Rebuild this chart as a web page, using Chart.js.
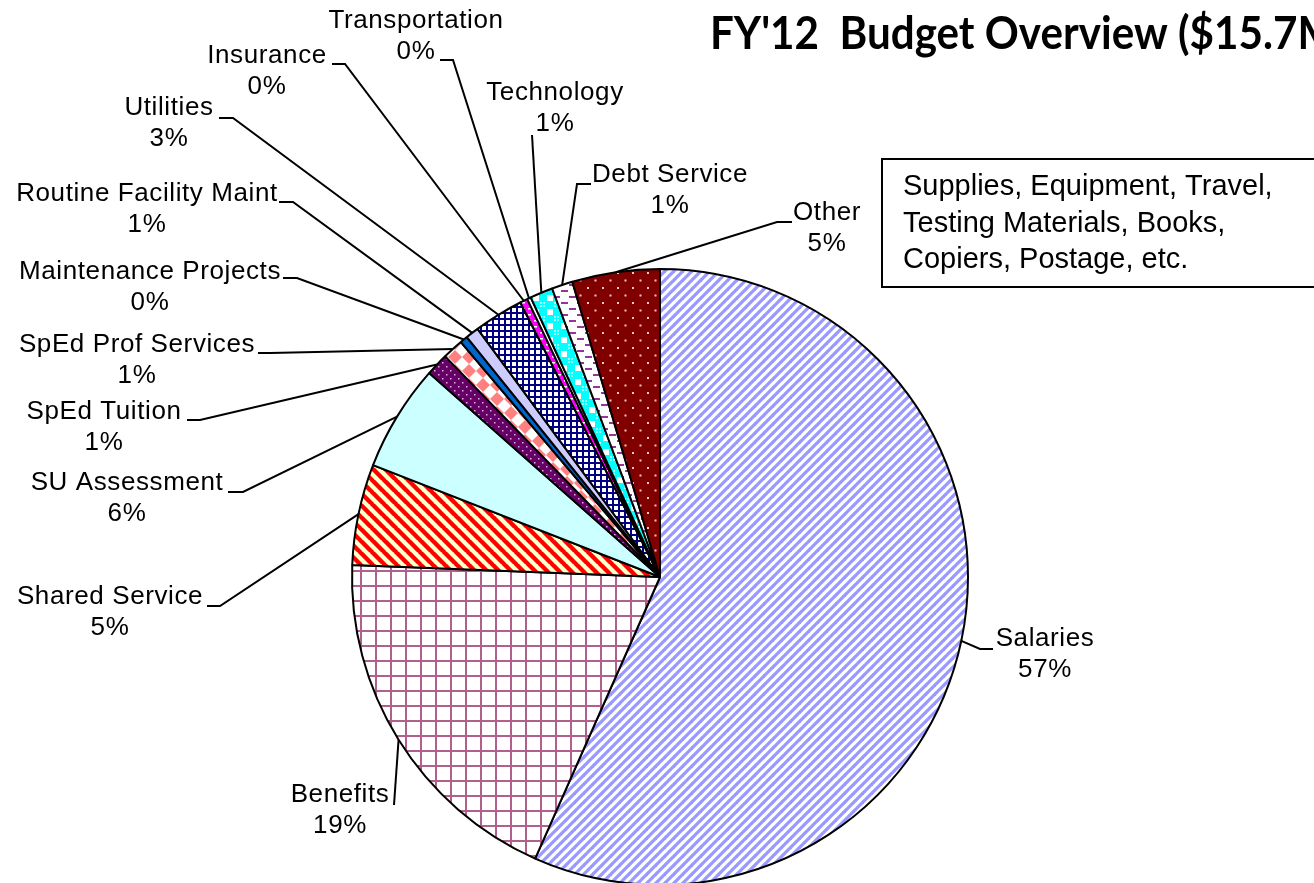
<!DOCTYPE html>
<html>
<head>
<meta charset="utf-8">
<script src="https://cdn.jsdelivr.net/npm/chart.js@4.4.1/dist/chart.umd.min.js"></script>
<style>
    html, body { margin: 0; padding: 0; background: #fff; overflow: hidden; }
    canvas { display: block; }
</style>
</head>
<body>
<canvas id="budget" width="1314" height="900"></canvas>
<script>
const categories = [
    "Salaries", "Benefits", "Shared Service", "SU Assessment", "SpEd Tuition",
    "SpEd Prof Services", "Maintenance Projects", "Routine Facility Maint",
    "Utilities", "Insurance", "Transportation", "Technology", "Debt Service", "Other"
];
// share of budget, percent
const shares = [56.7, 19.0, 5.3, 5.6, 1.2, 1.1, 0.4, 0.7, 2.6, 0.4, 0.2, 1.2, 1.1, 4.6];
const chartTitle = "FY'12  Budget Overview ($15.7M)";
const noteLines = ["Supplies, Equipment, Travel,", "Testing Materials, Books,", "Copiers, Postage, etc."];

// label layout: text centre x, first line y, leader start x, leader y, elbow x
const labelSpots = [
    [1045, 639, 993, 649, 980],
    [340, 795, 394, 805, 394],
    [110, 597, 207, 606, 220],
    [127, 483, 228, 492, 243],
    [104, 412, 187, 420, 200],
    [137, 345, 258, 353, 270],
    [150, 272, 283, 278, 297],
    [147, 194, 279, 202, 293],
    [169, 108, 219, 118, 233],
    [267, 56, 332, 64, 345],
    [416, 21, 440, 60, 453],
    [555, 93, 532, 135, 532],
    [670, 175, 591, 184, 577],
    [827, 213, 792, 222, 777]
];

/* PATTERNS */
function tile(w, h, draw) {
    const c = document.createElement("canvas");
    c.width = w; c.height = h;
    const g = c.getContext("2d");
    draw(g, w, h);
    return g.createPattern(c, "repeat");
}

function stripes(s, bg, fg, lw, dir) {
    return tile(s, s, (g) => {
        g.fillStyle = bg; g.fillRect(0, 0, s, s);
        g.strokeStyle = fg; g.lineWidth = lw;
        for (let k = -1; k <= 1; k++) {
            g.beginPath();
            if (dir > 0) { g.moveTo(k * s - 1, s + 1); g.lineTo(k * s + s + 1, -1); }
            else { g.moveTo(k * s - 1, -1); g.lineTo(k * s + s + 1, s + 1); }
            g.stroke();
        }
    });
}

function grid(s, bg, fg, lw) {
    return tile(s, s, (g) => {
        g.fillStyle = bg; g.fillRect(0, 0, s, s);
        g.fillStyle = fg;
        g.fillRect(0, 0, lw, s);
        g.fillRect(0, 0, s, lw);
    });
}

function dots(s, bg, fg, d) {
    return tile(s, s, (g) => {
        g.fillStyle = bg; g.fillRect(0, 0, s, s);
        g.fillStyle = fg;
        g.fillRect(2, 2, d, d);
        g.fillRect(2 + s / 2, 2 + s / 2, d, d);
    });
}

const fills = [
    stripes(9, "#ffffff", "#9999ff", 3.2, 1),
    grid(15, "#ffffff", "#b0608a", 2),
    stripes(12, "#ffffcc", "#ff0000", 4.4, -1),
    "#ccffff",
    dots(8, "#660066", "#e0b0e0", 1.5),
    tile(14, 14, (g) => {
        g.fillStyle = "#ffffff"; g.fillRect(0, 0, 14, 14);
        g.fillStyle = "#ff8080";
        g.beginPath(); g.moveTo(7, 0); g.lineTo(14, 7); g.lineTo(7, 14); g.lineTo(0, 7); g.fill();
    }),
    "#0066cc",
    "#ccccff",
    grid(6, "#ffffff", "#000080", 2),
    tile(6, 6, (g) => {
        g.fillStyle = "#ff00ff"; g.fillRect(0, 0, 6, 6);
        g.fillStyle = "#ffffff"; g.fillRect(0, 2, 3, 1.5);
    }),
    "#ffffff",
    tile(14, 14, (g) => {
        g.fillStyle = "#00ffff"; g.fillRect(0, 0, 14, 14);
        g.fillStyle = "#ffffff"; g.fillRect(1, 1, 6, 6);
        g.fillStyle = "#b0ffff"; g.fillRect(8, 8, 2, 2); g.fillRect(11, 11, 2, 2);
        g.fillRect(8, 11, 2, 2); g.fillRect(11, 8, 2, 2);
    }),
    tile(16, 12, (g) => {
        g.fillStyle = "#ffffff"; g.fillRect(0, 0, 16, 12);
        g.fillStyle = "#993399";
        g.fillRect(1, 2, 7, 2); g.fillRect(9, 8, 7, 2);
    }),
    dots(15, "#800000", "#f0c8c8", 2)
];

/* LABELS, TITLE, NOTE */
const calloutPlugin = {
    id: "callouts",
    afterDatasetsDraw(chart) {
        const ctx = chart.ctx;
        const arcs = chart.getDatasetMeta(0).data;
        const total = shares.reduce((a, b) => a + b, 0);

        ctx.save();
        ctx.strokeStyle = "#000";
        ctx.lineWidth = 2;
        ctx.fillStyle = "#000";
        ctx.font = "26px 'Liberation Sans', Arial, sans-serif";
        ctx.textAlign = "center";
        ctx.textBaseline = "middle";
        if ("letterSpacing" in ctx) ctx.letterSpacing = "0.6px";

        arcs.forEach((arc, i) => {
            const p = arc.getProps(["x", "y", "startAngle", "endAngle", "outerRadius"], true);
            const mid = (p.startAngle + p.endAngle) / 2;
            const tx = p.x + Math.cos(mid) * p.outerRadius;
            const ty = p.y + Math.sin(mid) * p.outerRadius;
            const s = labelSpots[i];
            ctx.beginPath();
            ctx.moveTo(s[2], s[3]);
            ctx.lineTo(s[4], s[3]);
            ctx.lineTo(tx, ty);
            ctx.stroke();
            ctx.fillText(categories[i], s[0], s[1]);
            ctx.fillText(Math.round(shares[i] / total * 100) + "%", s[0], s[1] + 31);
        });
        ctx.restore();
    },
    afterDraw(chart) {
        const ctx = chart.ctx;
        ctx.save();

        // note box
        ctx.strokeStyle = "#000";
        ctx.lineWidth = 2;
        ctx.fillStyle = "#fff";
        ctx.fillRect(882, 159, 450, 128);
        ctx.strokeRect(882, 159, 450, 128);
        ctx.fillStyle = "#000";
        ctx.font = "29px 'Liberation Sans', Arial, sans-serif";
        ctx.textAlign = "left";
        ctx.textBaseline = "alphabetic";
        noteLines.forEach((t, i) => ctx.fillText(t, 903, 195 + i * 36.5));

        // title, squeezed to the width of the original bold face
        ctx.font = "bold 46px Lato, 'Open Sans', sans-serif";
        const w = ctx.measureText("FY'12  Budget Overview ").width;
        ctx.translate(710, 49);
        ctx.scale(468 / w, 1);
        ctx.fillText(chartTitle, 0, 0);
        ctx.restore();
    }
};

new Chart(document.getElementById("budget"), {
    type: "pie",
    data: {
        labels: categories,
        datasets: [{
            data: shares,
            backgroundColor: fills,
            borderColor: "#000",
            borderWidth: 2
        }]
    },
    options: {
        responsive: false,
        animation: false,
        devicePixelRatio: 1,
        layout: { padding: { left: 351, right: 345, top: 268, bottom: 14 } },
        plugins: {
            legend: { display: false },
            tooltip: { enabled: false }
        }
    },
    plugins: [calloutPlugin]
});
</script>
</body>
</html>
